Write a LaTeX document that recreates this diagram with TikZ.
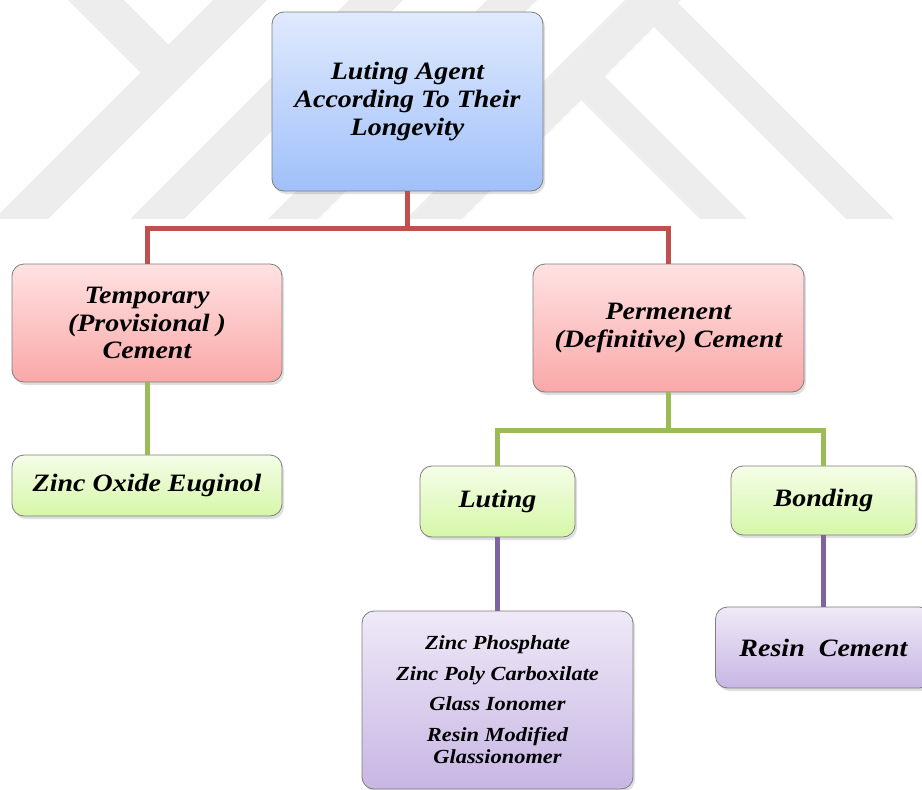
\documentclass[tikz,border=0pt]{standalone}
\usepackage{fontspec}
\setmainfont{Liberation Serif}[FakeStretch=1.12]
\usetikzlibrary{shadows}
\definecolor{markgray}{RGB}{237,237,237}
\definecolor{boxborder}{RGB}{125,125,125}
\definecolor{blueTop}{RGB}{224,234,253}
\definecolor{blueBot}{RGB}{160,192,250}
\definecolor{redTop}{RGB}{255,226,227}
\definecolor{redBot}{RGB}{250,168,168}
\definecolor{greenTop}{RGB}{245,253,232}
\definecolor{greenBot}{RGB}{214,247,168}
\definecolor{purpleTop}{RGB}{239,233,247}
\definecolor{purpleBot}{RGB}{199,182,228}
\definecolor{redlink}{RGB}{192,80,77}
\definecolor{greenlink}{RGB}{155,187,89}
\definecolor{purplelink}{RGB}{128,100,162}
\begin{document}
\begin{tikzpicture}
  [x=1pt,y=-1pt,
   agentbox/.style={rounded corners=12pt,draw=boxborder,line width=0.8pt,
     align=center,inner sep=2pt,
     font=\fontsize{25}{27.6}\selectfont\bfseries\itshape,
     drop shadow={shadow xshift=2pt,shadow yshift=-3pt,opacity=0.25}},
   bluebox/.style={top color=blueTop,bottom color=blueBot},
   redbox/.style={top color=redTop,bottom color=redBot},
   greenbox/.style={top color=greenTop,bottom color=greenBot},
   purplebox/.style={top color=purpleTop,bottom color=purpleBot},
   link/.style={line width=5pt,line join=miter}]
\useasboundingbox (0,0) rectangle (922,790);

% watermark
\begin{scope}
  \clip (0,0) rectangle (922,219);
  \foreach \xa/\xb/\bw in {213/-6/54,349/130/54,487/268/50,625/406/56,627/846/48}
    \fill[markgray] (\xa,0) -- (\xa+\bw,0) -- (\xb+\bw,219) -- (\xb,219) -- cycle;
  \fill[markgray] (68,0) -- (124,0) -- (195.5,71.5) -- (167.5,99.5) -- cycle;
  \fill[markgray] (553,72) -- (576.5,48.5) -- (747,219) -- (700,219) -- cycle;
\end{scope}

\node (root)[agentbox,bluebox,minimum width=271,minimum height=179] at (407.5,101.5)
  {Luting Agent\\According To Their\\Longevity};
\node (temp)[agentbox,redbox,minimum width=270,minimum height=118] at (147,323)
  {Temporary\\(Provisional )\\Cement};
\node (perm)[agentbox,redbox,minimum width=271,minimum height=128] at (668.5,328)
  {Permenent\\(Definitive) Cement};
\node (zoe)[agentbox,greenbox,minimum width=270,minimum height=61] at (147,485.5)
  {Zinc Oxide Euginol};
\node (luting)[agentbox,greenbox,minimum width=155,minimum height=71] at (497.5,501.5)
  {Luting};
\node (bonding)[agentbox,greenbox,minimum width=185,minimum height=69] at (823.5,500.5)
  {Bonding};
\node (zinclist)[agentbox,purplebox,minimum width=271,minimum height=178,
  font=\fontsize{20}{22.5}\selectfont\bfseries\itshape] at (497.5,700)
  {Zinc Phosphate\\[8pt]Zinc Poly Carboxilate\\[8pt]Glass Ionomer\\[8pt]Resin Modified\\Glassionomer};
\node (resin)[agentbox,purplebox,minimum width=216,minimum height=81] at (823.5,647.5)
  {Resin\ \ Cement};

\coordinate (redbar) at (407.5,228);
\coordinate (greenbar) at (668.5,430);

\foreach \to in {temp,perm}
  \draw[link,redlink] (root.south) -- (redbar) -| (\to.north);
\foreach \to in {luting,bonding}
  \draw[link,greenlink] (perm.south) -- (greenbar) -| (\to.north);
\draw[link,greenlink] (temp.south) -- (zoe.north);
\foreach \from/\to in {luting/zinclist,bonding/resin}
  \draw[link,purplelink] (\from.south) -- (\to.north);

\end{tikzpicture}
\end{document}
